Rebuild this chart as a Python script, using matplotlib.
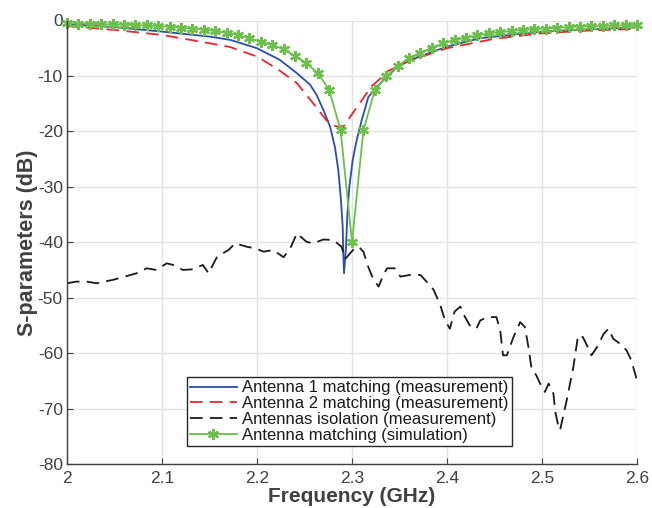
import matplotlib
matplotlib.use("Agg")
import matplotlib.pyplot as plt

plt.rcParams['font.family'] = ['Liberation Sans', 'DejaVu Sans']
plt.rcParams['axes.unicode_minus'] = False

# Antenna 1 matching (measurement)
f_ant1 = [2.000, 2.050, 2.100, 2.150, 2.172, 2.200, 2.224, 2.242, 2.256, 2.263, 2.270,
          2.277, 2.282, 2.2856, 2.2884, 2.2902, 2.2908, 2.2916, 2.2937, 2.295, 2.2972,
          2.3007, 2.3049, 2.3102, 2.3172, 2.330, 2.348, 2.362, 2.400, 2.435, 2.500, 2.600]
s_ant1 = [-0.6, -1.2, -2.0, -2.9, -3.5, -5.0, -7.1, -9.5, -11.6, -13.5, -16.2,
          -19.2, -22.8, -27.0, -32.4, -37.2, -42.0, -45.6, -40.8, -35.4, -30.0,
          -25.2, -21.6, -18.0, -13.8, -11.3, -8.3, -7.1, -4.7, -3.2, -2.0, -1.2]

# Antenna 2 matching (measurement)
f_ant2 = [2.000, 2.050, 2.100, 2.150, 2.172, 2.200, 2.222, 2.242, 2.259, 2.273, 2.282,
          2.290, 2.298, 2.309, 2.321, 2.329, 2.337, 2.360, 2.400, 2.450, 2.500, 2.550, 2.600]
s_ant2 = [-1.0, -1.7, -2.6, -4.1, -4.8, -6.5, -8.8, -11.3, -14.9, -18.0, -19.0,
          -19.4, -17.4, -14.7, -11.8, -10.6, -9.2, -7.3, -5.0, -3.3, -2.3, -1.8, -1.5]

# Antennas isolation (measurement)
f_iso = [2.000, 2.010, 2.021, 2.031, 2.042, 2.048, 2.063, 2.073, 2.084, 2.094, 2.105,
         2.112, 2.122, 2.131, 2.143, 2.149, 2.158, 2.170, 2.177, 2.189, 2.198, 2.207,
         2.217, 2.228, 2.235, 2.242, 2.252, 2.259, 2.270, 2.280, 2.289, 2.293, 2.301,
         2.307, 2.312, 2.317, 2.322, 2.328, 2.333, 2.337, 2.345, 2.351, 2.361, 2.372,
         2.380, 2.386, 2.393, 2.398, 2.403, 2.408, 2.414, 2.419, 2.424, 2.431, 2.435,
         2.443, 2.452, 2.456, 2.459, 2.463, 2.470, 2.477, 2.482, 2.486, 2.489, 2.494,
         2.498, 2.503, 2.507, 2.512, 2.514, 2.517, 2.519, 2.526, 2.533, 2.538, 2.543,
         2.549, 2.552, 2.558, 2.565, 2.570, 2.575, 2.582, 2.589, 2.594, 2.600]
s_iso = [-47.4, -47.1, -47.1, -47.4, -47.0, -46.8, -46.1, -45.6, -44.7, -45.0, -43.8,
         -44.1, -45.0, -44.9, -44.1, -45.6, -42.6, -41.4, -40.2, -40.8, -41.1, -41.7,
         -41.4, -42.7, -41.1, -38.4, -39.9, -40.2, -39.5, -39.6, -40.8, -43.0, -41.4,
         -40.8, -41.7, -44.4, -46.5, -48.0, -45.9, -44.7, -44.7, -46.2, -45.9, -45.9,
         -47.4, -48.6, -51.4, -54.1, -55.6, -52.5, -51.6, -53.5, -55.0, -55.6, -54.1,
         -53.5, -53.5, -55.9, -60.4, -60.4, -57.1, -54.4, -55.3, -59.2, -62.8, -64.0,
         -65.5, -67.0, -65.5, -67.3, -70.6, -73.0, -73.9, -68.5, -62.5, -56.8, -57.1,
         -59.2, -60.4, -58.9, -56.5, -55.6, -57.4, -58.3, -59.5, -61.3, -64.9]

# Antenna matching (simulation), 0.012 GHz steps
f_sim = [2.000, 2.012, 2.024, 2.036, 2.048, 2.060, 2.072, 2.084, 2.096, 2.108, 2.120,
         2.132, 2.144, 2.156, 2.168, 2.180, 2.192, 2.204, 2.216, 2.228, 2.240, 2.252,
         2.264, 2.276, 2.288, 2.300, 2.312, 2.324, 2.336, 2.348, 2.360, 2.372, 2.384,
         2.396, 2.408, 2.420, 2.432, 2.444, 2.456, 2.468, 2.480, 2.492, 2.504, 2.516,
         2.528, 2.540, 2.552, 2.564, 2.576, 2.588, 2.600]
s_sim = [-0.5, -0.55, -0.6, -0.65, -0.7, -0.75, -0.85, -0.9, -1.0, -1.15, -1.3,
         -1.45, -1.65, -1.9, -2.2, -2.6, -3.2, -3.8, -4.4, -5.2, -6.4, -7.7,
         -9.5, -12.5, -19.8, -40.0, -19.8, -12.6, -10.1, -8.2, -6.8, -5.8, -4.9,
         -4.1, -3.5, -3.1, -2.7, -2.3, -2.1, -1.9, -1.7, -1.55, -1.45, -1.3,
         -1.2, -1.1, -1.05, -1.0, -0.9, -0.85, -0.8]

labels = ["Antenna 1 matching (measurement)",
          "Antenna 2 matching (measurement)",
          "Antennas isolation (measurement)",
          "Antenna matching (simulation)"]

x_ticks = [2.0, 2.1, 2.2, 2.3, 2.4, 2.5, 2.6]
x_ticklabels = ["2", "2.1", "2.2", "2.3", "2.4", "2.5", "2.6"]
y_ticks = [0, -10, -20, -30, -40, -50, -60, -70, -80]

fig = plt.figure(figsize=(6.52, 5.08), dpi=100)
ax = fig.add_axes([67/652, (508-464)/508, 570/652, (464-20.5)/508])

gray = '#404040'
ax.plot(f_ant1, s_ant1, color='#2b4ea6', lw=1.3, label=labels[0])
ax.plot(f_ant2, s_ant2, color='#e8262b', lw=1.3, dashes=(7, 4), label=labels[1])
ax.plot(f_iso, s_iso, color='#1a1a1a', lw=1.3, dashes=(7, 4), label=labels[2])
ax.plot(f_sim, s_sim, color='#6cbf4a', lw=1.3, marker=(6, 2, 0), ms=8, mew=1.6,
        label=labels[3], clip_on=False)

ax.set_xlim(2.0, 2.6)
ax.set_ylim(-80, 0)
ax.set_xticks(x_ticks)
ax.set_xticklabels(x_ticklabels)
ax.set_yticks(y_ticks)
ax.grid(True, color='#e3e3e3', lw=1.0)
ax.set_axisbelow(True)
for s in ['top', 'right']:
    ax.spines[s].set_visible(False)
for s in ['left', 'bottom']:
    ax.spines[s].set_color(gray)
    ax.spines[s].set_linewidth(1.0)
ax.tick_params(direction='in', length=4, colors=gray, labelsize=12.5, labelcolor='#404040')
ax.tick_params(axis='x', pad=5)
ax.tick_params(axis='y', pad=3)

ax.set_xlabel("Frequency (GHz)", fontsize=15, fontweight='bold', color=gray, labelpad=1)
ax.set_ylabel("S-parameters (dB)", fontsize=15.5, fontweight='bold', color=gray, labelpad=0)

leg = ax.legend(loc='lower left', bbox_to_anchor=(0.21, 0.04), fontsize=12,
                frameon=True, fancybox=False, framealpha=1, edgecolor='#262626',
                handlelength=2.8, handletextpad=0.3, borderpad=0.2, labelspacing=0.05,
                borderaxespad=0, numpoints=1)
leg.get_frame().set_linewidth(1.0)
for t in leg.get_texts():
    t.set_color('#1a1a1a')

fig.savefig("out.png", dpi=100)
